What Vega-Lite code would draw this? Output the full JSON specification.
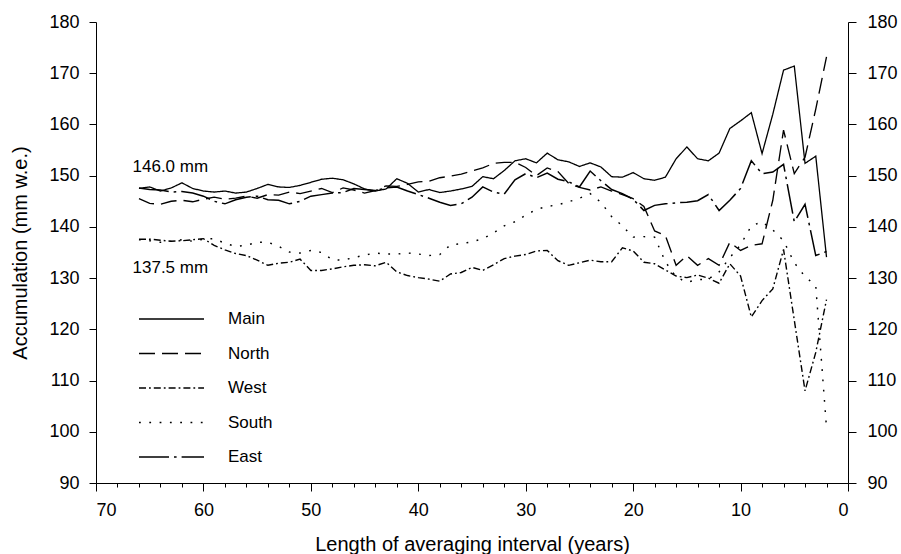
{
  "$schema": "https://vega.github.io/schema/vega-lite/v6.json",
  "width": 752,
  "height": 461,
  "autosize": {"type": "none"},
  "padding": {"left": 96, "top": 22, "right": 53, "bottom": 71},
  "background": "white",
  "config": {
    "view": {"stroke": null},
    "font": "Liberation Sans",
    "axis": {
      "domainColor": "black", "tickColor": "black", "labelColor": "black", "titleColor": "black",
      "labelFont": "Liberation Sans", "titleFont": "Liberation Sans",
      "labelFontSize": 18, "titleFontSize": 20, "titleFontWeight": "normal",
      "grid": false, "domainWidth": 1, "tickWidth": 1
    }
  },
  "datasets": {
    "series": [
      {"s":"Main","t":66,"v":147.5},{"s":"Main","t":65,"v":147.8},{"s":"Main","t":64,"v":147.0},{"s":"Main","t":63,"v":147.6},{"s":"Main","t":62,"v":148.6},{"s":"Main","t":61,"v":147.5},{"s":"Main","t":60,"v":147.0},{"s":"Main","t":59,"v":146.8},{"s":"Main","t":58,"v":147.0},{"s":"Main","t":57,"v":146.6},{"s":"Main","t":56,"v":146.8},{"s":"Main","t":55,"v":147.5},{"s":"Main","t":54,"v":148.3},{"s":"Main","t":53,"v":147.8},{"s":"Main","t":52,"v":147.7},{"s":"Main","t":51,"v":148.1},{"s":"Main","t":50,"v":148.7},{"s":"Main","t":49,"v":149.3},{"s":"Main","t":48,"v":149.5},{"s":"Main","t":47,"v":149.2},{"s":"Main","t":46,"v":148.4},{"s":"Main","t":45,"v":147.4},{"s":"Main","t":44,"v":147.0},{"s":"Main","t":43,"v":147.4},{"s":"Main","t":42,"v":149.4},{"s":"Main","t":41,"v":148.5},{"s":"Main","t":40,"v":146.8},{"s":"Main","t":39,"v":147.3},{"s":"Main","t":38,"v":146.7},{"s":"Main","t":37,"v":147.0},{"s":"Main","t":36,"v":147.4},{"s":"Main","t":35,"v":147.9},{"s":"Main","t":34,"v":149.8},{"s":"Main","t":33,"v":149.4},{"s":"Main","t":32,"v":151.0},{"s":"Main","t":31,"v":152.9},{"s":"Main","t":30,"v":153.3},{"s":"Main","t":29,"v":152.5},{"s":"Main","t":28,"v":154.4},{"s":"Main","t":27,"v":153.1},{"s":"Main","t":26,"v":152.7},{"s":"Main","t":25,"v":151.8},{"s":"Main","t":24,"v":152.5},{"s":"Main","t":23,"v":151.7},{"s":"Main","t":22,"v":149.8},{"s":"Main","t":21,"v":149.7},{"s":"Main","t":20,"v":150.6},{"s":"Main","t":19,"v":149.4},{"s":"Main","t":18,"v":149.1},{"s":"Main","t":17,"v":149.7},{"s":"Main","t":16,"v":153.3},{"s":"Main","t":15,"v":155.6},{"s":"Main","t":14,"v":153.3},{"s":"Main","t":13,"v":152.9},{"s":"Main","t":12,"v":154.4},{"s":"Main","t":11,"v":159.2},{"s":"Main","t":10,"v":160.7},{"s":"Main","t":9,"v":162.3},{"s":"Main","t":8,"v":154.3},{"s":"Main","t":7,"v":162.0},{"s":"Main","t":6,"v":170.6},{"s":"Main","t":5,"v":171.4},{"s":"Main","t":4,"v":152.4},{"s":"Main","t":3,"v":153.8},{"s":"Main","t":2,"v":134.1},
      {"s":"North","t":66,"v":145.5},{"s":"North","t":65,"v":144.6},{"s":"North","t":64,"v":144.4},{"s":"North","t":63,"v":145.0},{"s":"North","t":62,"v":145.2},{"s":"North","t":61,"v":144.9},{"s":"North","t":60,"v":145.4},{"s":"North","t":59,"v":145.8},{"s":"North","t":58,"v":145.4},{"s":"North","t":57,"v":145.6},{"s":"North","t":56,"v":146.0},{"s":"North","t":55,"v":145.6},{"s":"North","t":54,"v":146.3},{"s":"North","t":53,"v":146.2},{"s":"North","t":52,"v":146.8},{"s":"North","t":51,"v":146.5},{"s":"North","t":50,"v":147.0},{"s":"North","t":49,"v":147.5},{"s":"North","t":48,"v":146.7},{"s":"North","t":47,"v":147.6},{"s":"North","t":46,"v":147.2},{"s":"North","t":45,"v":146.6},{"s":"North","t":44,"v":147.1},{"s":"North","t":43,"v":148.0},{"s":"North","t":42,"v":147.9},{"s":"North","t":41,"v":148.3},{"s":"North","t":40,"v":148.8},{"s":"North","t":39,"v":148.9},{"s":"North","t":38,"v":149.6},{"s":"North","t":37,"v":149.9},{"s":"North","t":36,"v":150.3},{"s":"North","t":35,"v":150.9},{"s":"North","t":34,"v":151.5},{"s":"North","t":33,"v":152.4},{"s":"North","t":32,"v":152.6},{"s":"North","t":31,"v":152.6},{"s":"North","t":30,"v":151.6},{"s":"North","t":29,"v":150.0},{"s":"North","t":28,"v":151.5},{"s":"North","t":27,"v":150.8},{"s":"North","t":26,"v":148.5},{"s":"North","t":25,"v":147.7},{"s":"North","t":24,"v":147.2},{"s":"North","t":23,"v":147.8},{"s":"North","t":22,"v":147.0},{"s":"North","t":21,"v":146.3},{"s":"North","t":20,"v":145.5},{"s":"North","t":19,"v":144.0},{"s":"North","t":18,"v":139.2},{"s":"North","t":17,"v":138.3},{"s":"North","t":16,"v":132.5},{"s":"North","t":15,"v":134.4},{"s":"North","t":14,"v":132.5},{"s":"North","t":13,"v":133.8},{"s":"North","t":12,"v":132.5},{"s":"North","t":11,"v":137.0},{"s":"North","t":10,"v":135.4},{"s":"North","t":9,"v":136.4},{"s":"North","t":8,"v":136.7},{"s":"North","t":7,"v":145.2},{"s":"North","t":6,"v":158.9},{"s":"North","t":5,"v":150.4},{"s":"North","t":4,"v":153.6},{"s":"North","t":3,"v":163.0},{"s":"North","t":2,"v":173.2},
      {"s":"West","t":66,"v":137.6},{"s":"West","t":65,"v":137.6},{"s":"West","t":64,"v":137.4},{"s":"West","t":63,"v":137.2},{"s":"West","t":62,"v":137.3},{"s":"West","t":61,"v":137.5},{"s":"West","t":60,"v":137.7},{"s":"West","t":59,"v":136.4},{"s":"West","t":58,"v":135.5},{"s":"West","t":57,"v":134.8},{"s":"West","t":56,"v":134.4},{"s":"West","t":55,"v":133.5},{"s":"West","t":54,"v":132.5},{"s":"West","t":53,"v":132.9},{"s":"West","t":52,"v":133.1},{"s":"West","t":51,"v":133.7},{"s":"West","t":50,"v":131.5},{"s":"West","t":49,"v":131.5},{"s":"West","t":48,"v":131.8},{"s":"West","t":47,"v":132.2},{"s":"West","t":46,"v":132.5},{"s":"West","t":45,"v":132.6},{"s":"West","t":44,"v":132.4},{"s":"West","t":43,"v":133.1},{"s":"West","t":42,"v":131.2},{"s":"West","t":41,"v":130.5},{"s":"West","t":40,"v":130.1},{"s":"West","t":39,"v":129.8},{"s":"West","t":38,"v":129.4},{"s":"West","t":37,"v":130.8},{"s":"West","t":36,"v":131.1},{"s":"West","t":35,"v":132.1},{"s":"West","t":34,"v":131.5},{"s":"West","t":33,"v":132.6},{"s":"West","t":32,"v":133.8},{"s":"West","t":31,"v":134.3},{"s":"West","t":30,"v":134.6},{"s":"West","t":29,"v":135.3},{"s":"West","t":28,"v":135.4},{"s":"West","t":27,"v":133.4},{"s":"West","t":26,"v":132.5},{"s":"West","t":25,"v":133.0},{"s":"West","t":24,"v":133.5},{"s":"West","t":23,"v":133.2},{"s":"West","t":22,"v":133.2},{"s":"West","t":21,"v":135.9},{"s":"West","t":20,"v":135.3},{"s":"West","t":19,"v":133.1},{"s":"West","t":18,"v":132.8},{"s":"West","t":17,"v":131.6},{"s":"West","t":16,"v":130.4},{"s":"West","t":15,"v":130.1},{"s":"West","t":14,"v":130.6},{"s":"West","t":13,"v":130.0},{"s":"West","t":12,"v":129.0},{"s":"West","t":11,"v":132.8},{"s":"West","t":10,"v":130.4},{"s":"West","t":9,"v":122.4},{"s":"West","t":8,"v":125.6},{"s":"West","t":7,"v":127.9},{"s":"West","t":6,"v":135.6},{"s":"West","t":5,"v":121.8},{"s":"West","t":4,"v":108.0},{"s":"West","t":3,"v":115.5},{"s":"West","t":2,"v":125.8},
      {"s":"South","t":66,"v":137.5},{"s":"South","t":65,"v":137.3},{"s":"South","t":64,"v":137.0},{"s":"South","t":63,"v":137.2},{"s":"South","t":62,"v":137.5},{"s":"South","t":61,"v":137.2},{"s":"South","t":60,"v":137.6},{"s":"South","t":59,"v":137.7},{"s":"South","t":58,"v":136.8},{"s":"South","t":57,"v":136.2},{"s":"South","t":56,"v":136.4},{"s":"South","t":55,"v":137.0},{"s":"South","t":54,"v":137.0},{"s":"South","t":53,"v":136.2},{"s":"South","t":52,"v":135.1},{"s":"South","t":51,"v":134.9},{"s":"South","t":50,"v":135.4},{"s":"South","t":49,"v":135.0},{"s":"South","t":48,"v":133.6},{"s":"South","t":47,"v":133.5},{"s":"South","t":46,"v":134.0},{"s":"South","t":45,"v":134.5},{"s":"South","t":44,"v":134.9},{"s":"South","t":43,"v":134.7},{"s":"South","t":42,"v":134.7},{"s":"South","t":41,"v":134.9},{"s":"South","t":40,"v":134.7},{"s":"South","t":39,"v":134.4},{"s":"South","t":38,"v":134.6},{"s":"South","t":37,"v":136.5},{"s":"South","t":36,"v":136.7},{"s":"South","t":35,"v":137.1},{"s":"South","t":34,"v":137.7},{"s":"South","t":33,"v":138.8},{"s":"South","t":32,"v":140.2},{"s":"South","t":31,"v":141.0},{"s":"South","t":30,"v":142.3},{"s":"South","t":29,"v":143.4},{"s":"South","t":28,"v":144.0},{"s":"South","t":27,"v":144.3},{"s":"South","t":26,"v":144.9},{"s":"South","t":25,"v":145.6},{"s":"South","t":24,"v":146.5},{"s":"South","t":23,"v":144.8},{"s":"South","t":22,"v":142.0},{"s":"South","t":21,"v":140.2},{"s":"South","t":20,"v":138.0},{"s":"South","t":19,"v":138.1},{"s":"South","t":18,"v":138.0},{"s":"South","t":17,"v":133.2},{"s":"South","t":16,"v":130.2},{"s":"South","t":15,"v":129.2},{"s":"South","t":14,"v":129.7},{"s":"South","t":13,"v":129.8},{"s":"South","t":12,"v":131.2},{"s":"South","t":11,"v":134.0},{"s":"South","t":10,"v":136.5},{"s":"South","t":9,"v":140.2},{"s":"South","t":8,"v":141.0},{"s":"South","t":7,"v":139.4},{"s":"South","t":6,"v":137.3},{"s":"South","t":5,"v":133.0},{"s":"South","t":4,"v":130.3},{"s":"South","t":3,"v":128.5},{"s":"South","t":2,"v":100.8},
      {"s":"East","t":66,"v":147.6},{"s":"East","t":65,"v":147.3},{"s":"East","t":64,"v":147.2},{"s":"East","t":63,"v":146.8},{"s":"East","t":62,"v":146.9},{"s":"East","t":61,"v":146.6},{"s":"East","t":60,"v":146.0},{"s":"East","t":59,"v":145.0},{"s":"East","t":58,"v":144.5},{"s":"East","t":57,"v":145.3},{"s":"East","t":56,"v":145.8},{"s":"East","t":55,"v":146.0},{"s":"East","t":54,"v":145.3},{"s":"East","t":53,"v":145.2},{"s":"East","t":52,"v":144.5},{"s":"East","t":51,"v":145.0},{"s":"East","t":50,"v":146.0},{"s":"East","t":49,"v":146.3},{"s":"East","t":48,"v":146.6},{"s":"East","t":47,"v":146.7},{"s":"East","t":46,"v":147.5},{"s":"East","t":45,"v":147.3},{"s":"East","t":44,"v":147.1},{"s":"East","t":43,"v":147.6},{"s":"East","t":42,"v":147.8},{"s":"East","t":41,"v":147.0},{"s":"East","t":40,"v":146.3},{"s":"East","t":39,"v":145.6},{"s":"East","t":38,"v":144.8},{"s":"East","t":37,"v":144.2},{"s":"East","t":36,"v":144.5},{"s":"East","t":35,"v":145.8},{"s":"East","t":34,"v":147.8},{"s":"East","t":33,"v":146.8},{"s":"East","t":32,"v":146.4},{"s":"East","t":31,"v":149.2},{"s":"East","t":30,"v":150.4},{"s":"East","t":29,"v":149.6},{"s":"East","t":28,"v":150.5},{"s":"East","t":27,"v":149.3},{"s":"East","t":26,"v":148.8},{"s":"East","t":25,"v":147.8},{"s":"East","t":24,"v":150.9},{"s":"East","t":23,"v":149.0},{"s":"East","t":22,"v":147.3},{"s":"East","t":21,"v":146.5},{"s":"East","t":20,"v":145.4},{"s":"East","t":19,"v":143.2},{"s":"East","t":18,"v":144.2},{"s":"East","t":17,"v":144.5},{"s":"East","t":16,"v":144.7},{"s":"East","t":15,"v":144.8},{"s":"East","t":14,"v":145.1},{"s":"East","t":13,"v":146.3},{"s":"East","t":12,"v":143.2},{"s":"East","t":11,"v":145.2},{"s":"East","t":10,"v":147.5},{"s":"East","t":9,"v":152.9},{"s":"East","t":8,"v":150.4},{"s":"East","t":7,"v":150.7},{"s":"East","t":6,"v":152.2},{"s":"East","t":5,"v":141.0},{"s":"East","t":4,"v":144.4},{"s":"East","t":3,"v":134.4},{"s":"East","t":2,"v":135.2}
    ],
    "notes": [
      {"label": "146.0 mm", "t": 66.6, "v": 151.6},
      {"label": "137.5 mm", "t": 66.6, "v": 131.9}
    ]
  },
  "layer": [
    {
      "data": {"name": "series"},
      "mark": {"type": "line", "color": "black", "strokeCap": "butt", "strokeJoin": "miter"},
      "encoding": {
        "x": {
          "field": "t", "type": "quantitative",
          "scale": {"domain": [70, 0], "nice": false, "zero": false},
          "axis": {
            "orient": "bottom",
            "values": [70, 60, 50, 40, 30, 20, 10, 0],
            "tickSize": 8, "labelPadding": 10,
            "title": "Length of averaging interval (years)", "titlePadding": 15
          }
        },
        "y": {
          "field": "v", "type": "quantitative",
          "scale": {"domain": [90, 180], "nice": false, "zero": false},
          "axis": {
            "orient": "left",
            "values": [90, 100, 110, 120, 130, 140, 150, 160, 170, 180],
            "tickSize": 7, "labelPadding": 10,
            "title": "Accumulation (mm w.e.)", "titlePadding": 18
          }
        },
        "strokeDash": {
          "field": "s", "type": "nominal",
          "scale": {
            "domain": ["Main", "North", "West", "South", "East"],
            "range": [[1, 0], [16, 7], [7, 3, 1.8, 3], [1.8, 8.5], [30, 5, 2.6, 5]]
          },
          "legend": {
            "title": null, "orient": "none", "legendX": 42, "legendY": 288.5,
            "symbolType": "stroke", "symbolSize": 4225, "symbolStrokeColor": "black",
            "labelFont": "Liberation Sans", "labelFontSize": 17, "labelColor": "black",
            "labelOffset": 23, "rowPadding": 16.5, "padding": 0, "clipHeight": 17
          }
        },
        "strokeWidth": {
          "field": "s", "type": "nominal",
          "scale": {
            "domain": ["Main", "North", "West", "South", "East"],
            "range": [1.3, 1.5, 1.4, 1.9, 2.6]
          },
          "legend": {
            "title": null, "orient": "none", "legendX": 42, "legendY": 288.5,
            "symbolType": "stroke", "symbolSize": 4225, "symbolStrokeColor": "black",
            "labelFont": "Liberation Sans", "labelFontSize": 17, "labelColor": "black",
            "labelOffset": 23, "rowPadding": 16.5, "padding": 0, "clipHeight": 17
          }
        }
      }
    },
    {
      "data": {"name": "notes"},
      "mark": {"type": "text", "align": "left", "baseline": "middle", "fontSize": 17, "font": "Liberation Sans", "color": "black"},
      "encoding": {
        "x": {
          "field": "t", "type": "quantitative",
          "scale": {"domain": [70, 0], "nice": false, "zero": false},
          "axis": {
            "orient": "bottom",
            "values": [68, 66, 64, 62, 58, 56, 54, 52, 48, 46, 44, 42, 38, 36, 34, 32, 28, 26, 24, 22, 18, 16, 14, 12, 8, 6, 4, 2],
            "tickSize": 4, "labels": false, "domain": false, "title": null
          }
        },
        "y": {
          "field": "v", "type": "quantitative",
          "scale": {"domain": [90, 180], "nice": false, "zero": false},
          "axis": {
            "orient": "right",
            "values": [90, 100, 110, 120, 130, 140, 150, 160, 170, 180],
            "tickSize": 8, "labelPadding": 11, "title": null
          }
        },
        "text": {"field": "label", "type": "nominal"}
      }
    }
  ],
  "resolve": {"axis": {"x": "independent", "y": "independent"}}
}
